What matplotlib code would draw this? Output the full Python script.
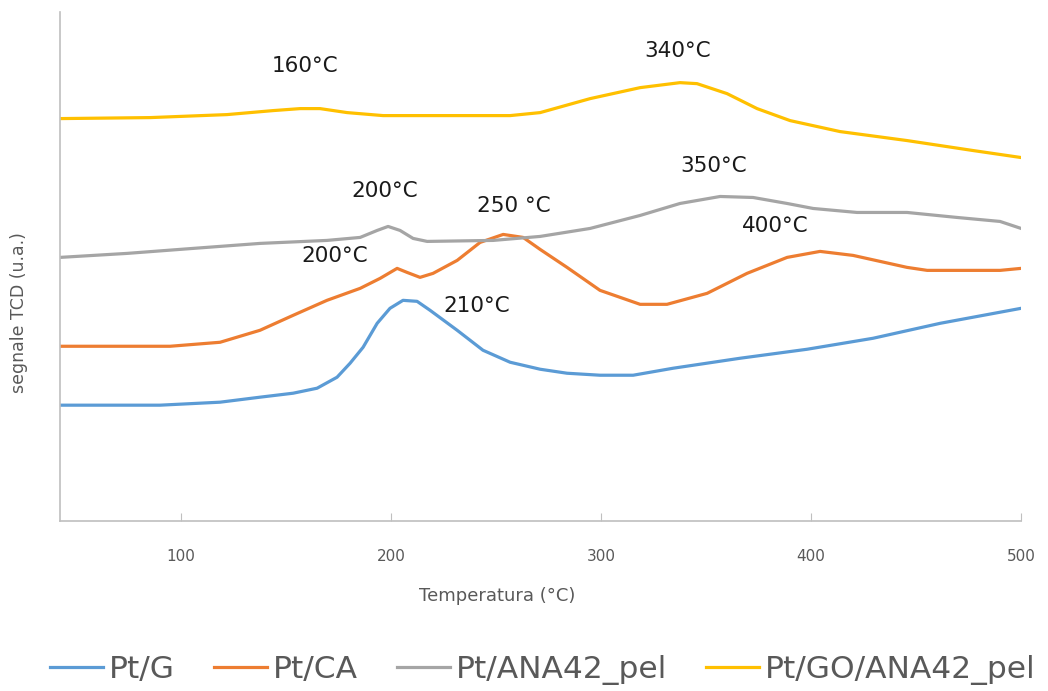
import matplotlib
matplotlib.use('Agg')
import matplotlib.pyplot as plt

# readings from the picture (arbitrary TCD units)
x_g = [42.4, 90, 118.6, 137.6, 153.4, 164.8, 174.3, 180.5, 186.7, 193.4, 199.5, 205.7, 212.4, 218.6, 231.5, 243.8,
       256.7, 271, 283.8, 299.5, 315.3, 334.3, 366.2, 398.1, 429.5, 461.5, 500]
y_g = [1.16, 1.16, 1.19, 1.24, 1.28, 1.33, 1.44, 1.58, 1.74, 1.98, 2.13, 2.21, 2.20, 2.11, 1.91, 1.71,
       1.59, 1.52, 1.48, 1.46, 1.46, 1.53, 1.63, 1.72, 1.83, 1.98, 2.13]

x_ca = [42.4, 94.8, 118.6, 137.6, 153.4, 169.5, 185.3, 194.8, 202.9, 207.6, 213.8, 220, 231.5, 242.4, 253.4, 262.9,
        271, 283.8, 299.5, 318.6, 331.4, 350.5, 369.5, 388.6, 404.3, 420, 445.7, 455.3, 490, 500]
y_ca = [1.75, 1.75, 1.79, 1.91, 2.06, 2.21, 2.33, 2.43, 2.53, 2.49, 2.44, 2.48, 2.61, 2.79, 2.87, 2.84,
        2.72, 2.54, 2.31, 2.17, 2.17, 2.28, 2.48, 2.64, 2.70, 2.66, 2.54, 2.51, 2.51, 2.53]

x_ana = [42.4, 74.3, 105.7, 137.6, 169.5, 185.3, 193.4, 198.6, 204.3, 210.5, 217.2, 248.6, 271, 294.8, 318.6, 337.6,
         356.7, 372.4, 388.6, 401, 421.9, 445.7, 469.5, 490, 500]
y_ana = [2.64, 2.68, 2.73, 2.78, 2.81, 2.84, 2.91, 2.95, 2.91, 2.83, 2.80, 2.81, 2.85, 2.93, 3.06, 3.18,
         3.25, 3.24, 3.18, 3.13, 3.09, 3.09, 3.04, 3.00, 2.93]

x_go = [42.4, 85.3, 121.9, 143.8, 156.7, 166.2, 179.1, 196.2, 256.7, 271, 294.8, 318.6, 337.6, 345.7, 360, 374.3,
        390, 413.8, 445.7, 477.2, 500]
y_go = [4.03, 4.04, 4.07, 4.11, 4.13, 4.13, 4.09, 4.06, 4.06, 4.09, 4.23, 4.34, 4.39, 4.38, 4.28, 4.13,
        4.01, 3.90, 3.81, 3.71, 3.64]

labels = ['Pt/G', 'Pt/CA', 'Pt/ANA42_pel', 'Pt/GO/ANA42_pel']
colors = ['#5B9BD5', '#ED7D31', '#A5A5A5', '#FFC000']

# peak labels: text, x, y
ann_text = ['160°C', '340°C', '350°C', '200°C', '250 °C', '400°C', '200°C', '210°C']
ann_x = [159, 336.7, 353.4, 197.2, 258.6, 382.9, 173.4, 241]
ann_y = [4.56, 4.71, 3.56, 3.30, 3.15, 2.95, 2.65, 2.15]

fig = plt.figure(figsize=(10.48, 6.91), dpi=100)
ax = fig.add_axes([0.0573, 0.246, 0.917, 0.737])

for xs, ys, lab, c in zip([x_g, x_ca, x_ana, x_go], [y_g, y_ca, y_ana, y_go], labels, colors):
    ax.plot(xs, ys, color=c, lw=2.3, label=lab)

for t, x, y in zip(ann_text, ann_x, ann_y):
    ax.text(x, y, t, fontsize=15.5, ha='center', va='center', color='#1a1a1a')

ax.set_xlim(42.4, 500)
ax.set_ylim(0, 5.1)
ax.set_xticks([100, 200, 300, 400, 500])
ax.set_yticks([])
ax.tick_params(axis='x', direction='in', length=6, color='#BFBFBF', labelcolor='#595959', labelsize=11, pad=20)
for s in ['top', 'right']:
    ax.spines[s].set_visible(False)
for s in ['left', 'bottom']:
    ax.spines[s].set_color('#BFBFBF')
    ax.spines[s].set_linewidth(1.2)
ax.set_xlabel('Temperatura (°C)', color='#595959', fontsize=13)
ax.xaxis.set_label_coords(0.455, -0.13)
ax.set_ylabel('segnale TCD (u.a.)', color='#595959', fontsize=12.5)
ax.yaxis.set_label_coords(-0.033, 0.41)

fig.legend(loc='center', bbox_to_anchor=(0.518, 0.03), ncol=4, frameon=False, fontsize=22.5,
           handlelength=1.7, handletextpad=0.18, columnspacing=1.25, labelcolor='#595959',
           borderaxespad=0, borderpad=0)

fig.savefig('out.png', dpi=100)
